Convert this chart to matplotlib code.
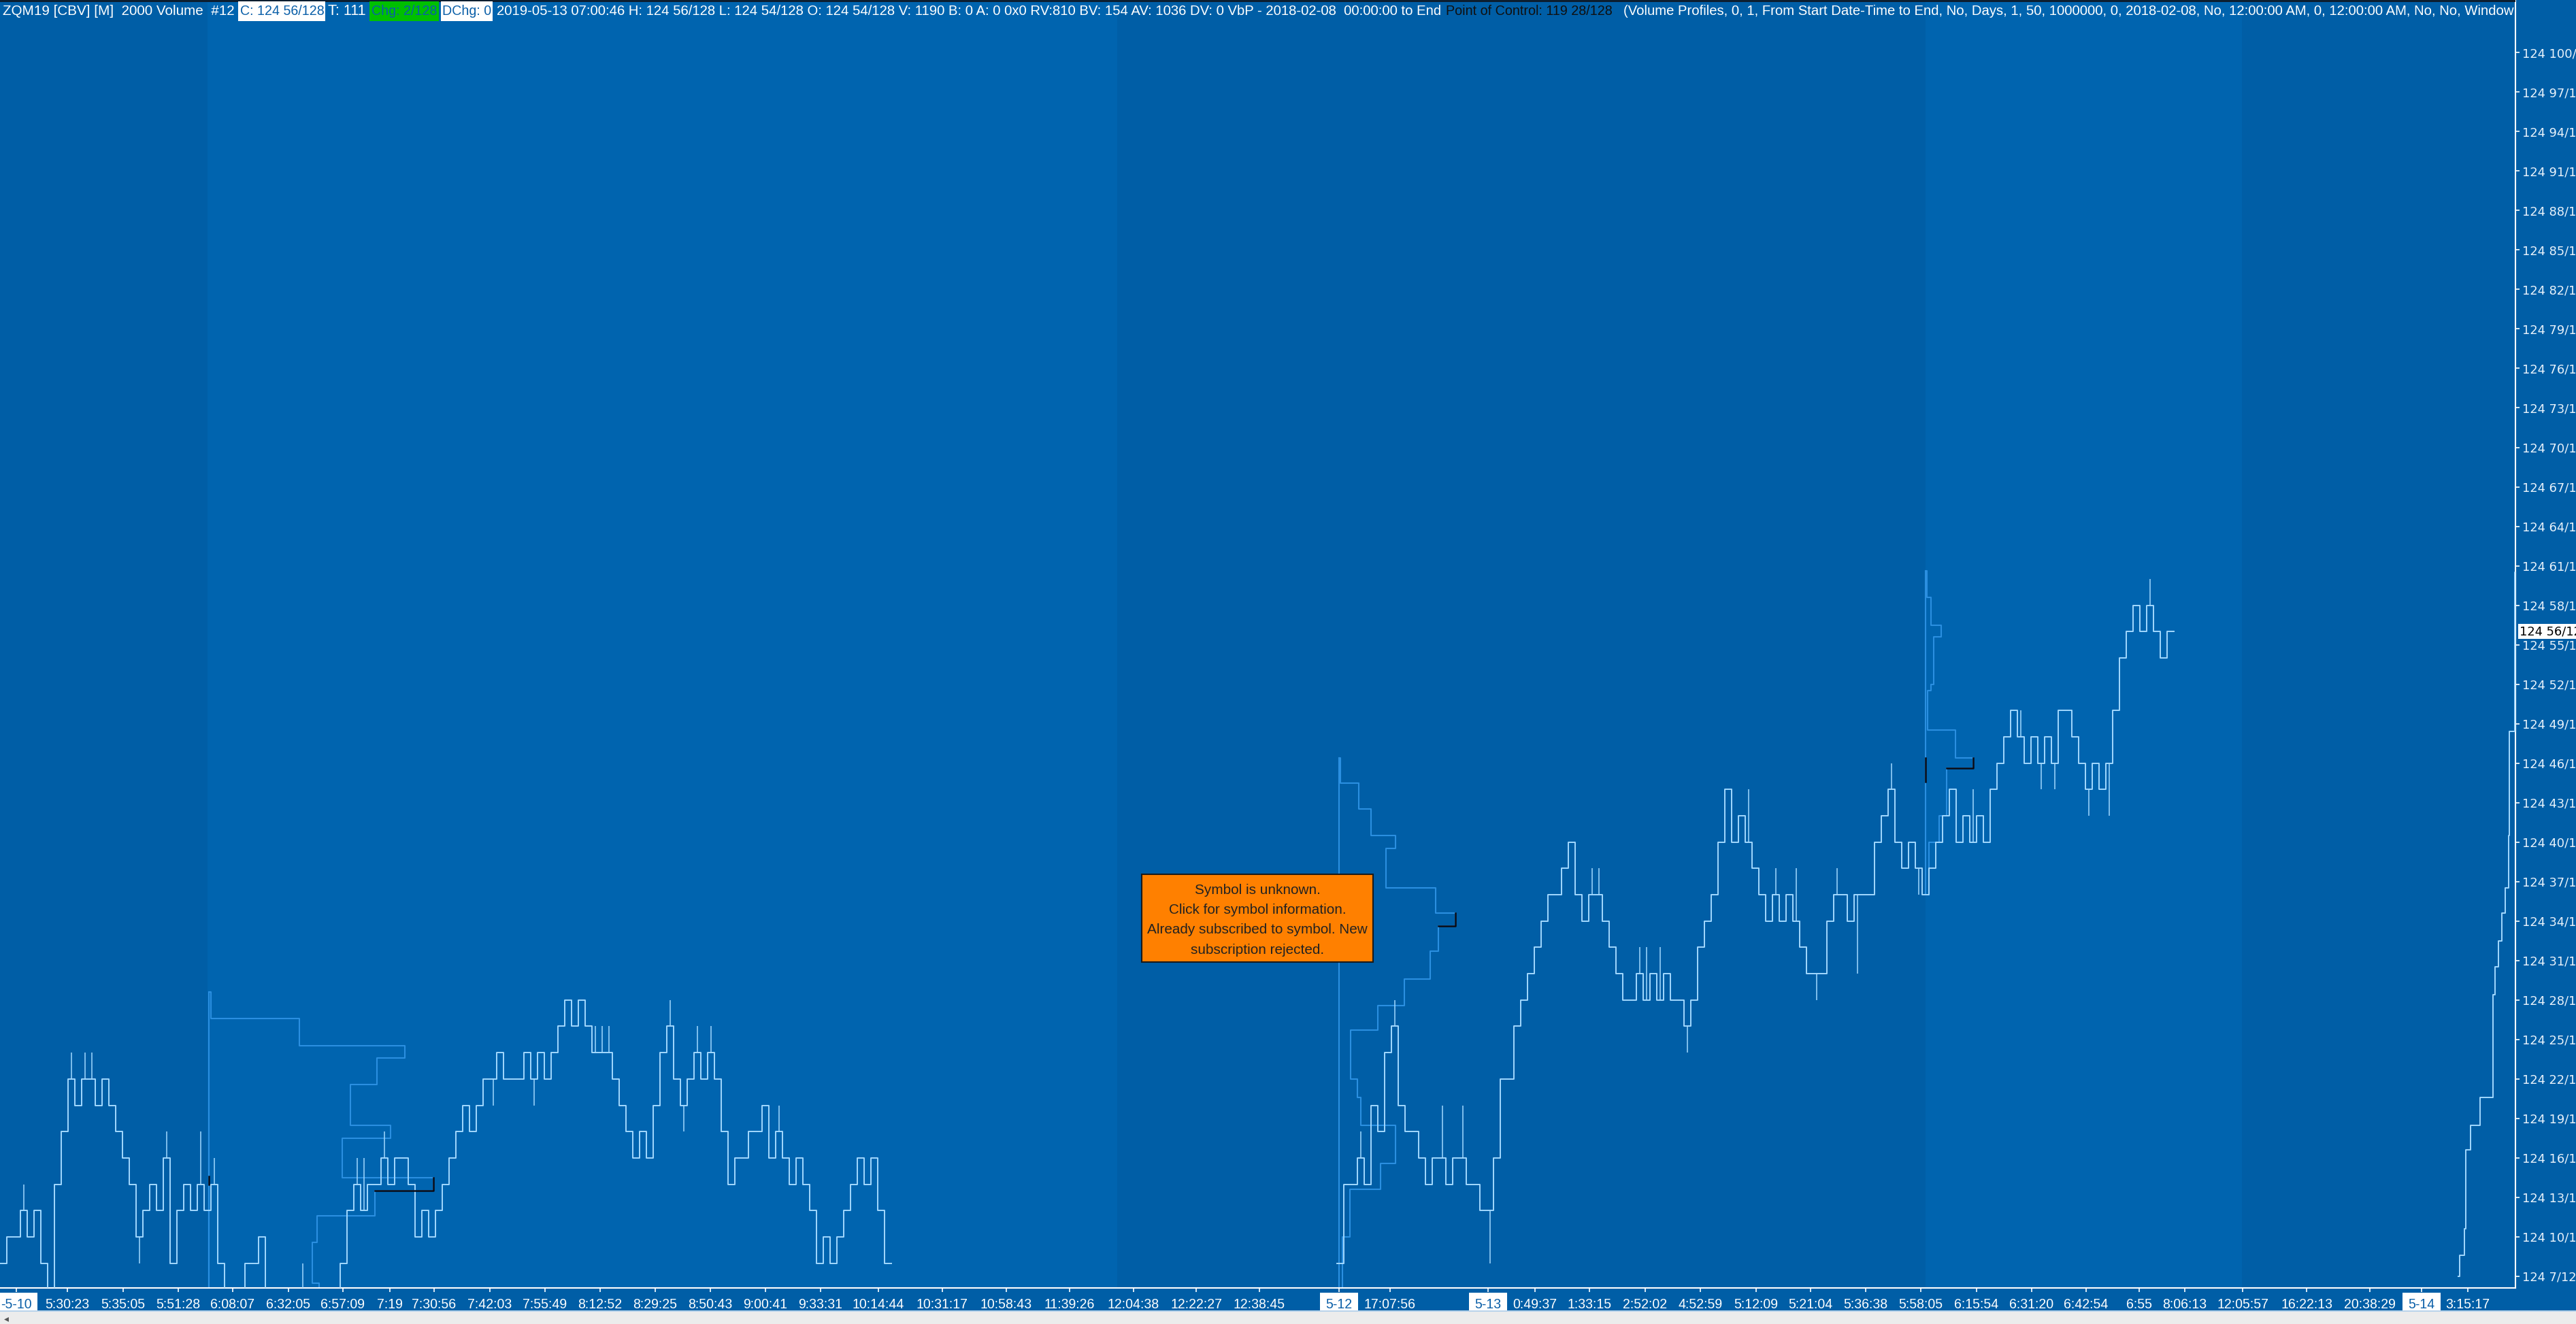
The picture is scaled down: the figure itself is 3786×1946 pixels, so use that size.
import matplotlib
matplotlib.use('Agg')
import matplotlib.pyplot as plt
import numpy as np
from matplotlib import font_manager as fm
from matplotlib.patches import Rectangle

W, H, DPI = 3786, 1946, 100

# ---------------- data (price in 128ths above 124; x in bars) ----------------
seg_a_start = 0.0
seg_a_close = [8, 10, 10, 12, 10, 12, 8, 4, 14, 18, 22, 20, 22, 22, 20, 22, 20, 18, 16, 14,
               10, 12, 14, 12, 16, 8, 12, 14, 12, 14, 12, 14, 8, 4, 4, 4, 8, 8, 10, 4,
               4, 4, 4, 4, 4, 4, 4, 4, 4, 4, 8, 12, 14, 12, 14, 14, 16, 14, 16, 16,
               14, 10, 12, 10, 12, 14, 16, 18, 20, 18, 20, 22, 22, 24, 22, 22, 22, 24, 22, 24,
               22, 24, 26, 28, 26, 28, 26, 24, 24, 24, 22, 20, 18, 16, 18, 16, 20, 24, 26, 22,
               20, 22, 24, 22, 24, 22, 18, 14, 16, 16, 18, 18, 20, 16, 18, 16, 14, 16, 14, 12,
               8, 10, 8, 10, 12, 14, 16, 14, 16, 12, 8]
seg_a_spike_idx = [3, 10, 12, 13, 20, 24, 29, 31, 44, 52, 53, 56, 72, 78, 87, 88, 89, 98, 100, 102, 104, 112, 114]
seg_a_spike_lvl = [14, 24, 24, 24, 8, 18, 18, 16, 8, 16, 16, 18, 20, 20, 26, 26, 26, 28, 18, 26, 26, 20, 20]

seg_b_start = 196.5
seg_b_close = [8, 14, 14, 16, 14, 20, 18, 24, 26, 20, 18, 18, 16, 14, 16, 16, 14, 16, 16, 14,
               14, 12, 12, 16, 22, 22, 26, 28, 30, 32, 34, 36, 36, 38, 40, 36, 34, 36, 36, 34,
               32, 30, 28, 28, 30, 28, 30, 28, 30, 28, 28, 26, 28, 32, 34, 36, 40, 44, 40, 42,
               40, 38, 36, 34, 36, 34, 36, 34, 32, 30, 30, 30, 34, 36, 36, 34, 36, 36, 36, 40,
               42, 44, 40, 38, 40, 38, 36, 38, 40, 42, 44, 40, 42, 40, 42, 40, 44, 46, 48, 50,
               48, 46, 48, 46, 48, 46, 50, 50, 48, 46, 44, 46, 44, 46, 50, 54, 56, 58, 56, 58,
               56, 54, 56]
seg_b_spike_idx = [3, 8, 15, 18, 22, 37, 38, 44, 45, 47, 51, 60, 64, 67, 70, 73, 76, 81, 85, 93, 99, 100, 103, 105, 110, 113, 119]
seg_b_spike_lvl = [18, 28, 20, 20, 8, 38, 38, 32, 32, 32, 24, 44, 38, 38, 28, 38, 30, 46, 36, 44, 50, 50, 44, 44, 42, 42, 60]

seg_c_x = [361.3, 361.5, 362.2, 362.4, 363.1, 364.5, 366.4, 366.7, 367.2, 367.7, 368.2, 368.7, 368.8, 369.55, 369.7]
seg_c_lvl = [7.0, 8.6, 10.6, 16.6, 18.5, 20.6, 28.4, 30.5, 32.5, 34.6, 36.5, 40.5, 48.4, 60.5, 60.5]

# volume-by-price profiles: anchor bar, bin edges (price), bin widths (bars), POC bin
vp1_anchor = 30.7
vp1_edges = [28.6, 26.6, 24.5, 23.6, 21.6, 18.5, 17.5, 14.5, 13.5, 11.6, 9.6, 6.5, 5.0]
vp1_widths = [0.3, 13.3, 28.8, 24.7, 20.8, 26.7, 19.6, 33.0, 24.4, 15.9, 15.2, 16.2]
vp1_poc = 7
vp2_anchor = 196.8
vp2_edges = [46.4, 44.5, 42.5, 40.5, 39.5, 36.5, 34.6, 33.6, 31.7, 29.6, 27.6, 25.7, 22.0, 20.6, 18.5, 15.6, 13.6, 10.0, 5.0]
vp2_widths = [0.2, 2.9, 4.7, 8.3, 6.9, 14.2, 17.1, 14.6, 13.4, 9.6, 5.7, 1.7, 2.7, 3.2, 8.3, 6.1, 1.6, 0.5]
vp2_poc = 6
vp3_anchor = 283.0
vp3_edges = [60.6, 58.6, 56.5, 55.6, 52.0, 51.5, 48.5, 46.4, 45.6, 42.0, 40.0, 36.0]
vp3_widths = [0.2, 0.8, 2.3, 1.2, 0.8, 0.3, 4.4, 7.0, 3.1, 2.0, 0.5]
vp3_poc = 7

# x-axis labels (bar positions) and boxed date labels
xtick_pos = [9.9, 18.1, 26.2, 34.2, 42.4, 50.4, 57.3, 63.8, 72.0, 80.1, 88.2, 96.3, 104.4, 112.5,
             120.6, 129.1, 138.5, 147.9, 157.2, 166.6, 175.8, 185.1, 204.3, 225.6, 233.6, 241.8,
             249.9, 258.1, 266.1, 274.2, 282.3, 290.5, 298.6, 306.6, 314.4, 321.1, 329.6, 339.0,
             348.3, 362.7]
xtick_lab = ['5:30:23', '5:35:05', '5:51:28', '6:08:07', '6:32:05', '6:57:09', '7:19', '7:30:56',
             '7:42:03', '7:55:49', '8:12:52', '8:29:25', '8:50:43', '9:00:41', '9:33:31', '10:14:44',
             '10:31:17', '10:58:43', '11:39:26', '12:04:38', '12:22:27', '12:38:45', '17:07:56',
             '0:49:37', '1:33:15', '2:52:02', '4:52:59', '5:12:09', '5:21:04', '5:36:38', '5:58:05',
             '6:15:54', '6:31:20', '6:42:54', '6:55', '8:06:13', '12:05:57', '16:22:13', '20:38:29',
             '3:15:17']
date_pos = [2.4, 196.8, 218.7, 355.9]
date_lab = ['-5-10', '5-12', '5-13', '5-14']

ytick_vals = list(range(7, 101, 3))
last_price = 56

# background session bands (bar ranges)
band_edges = [0, 30.5, 164.2, 283.0, 329.5, 369.7]
band_dark = [True, False, True, False, True]

# header pieces: text, start px, end px (None = use common size), colour, box
header_pieces = [
    ("ZQM19 [CBV] [M]  2000 Volume  #12", 4, 345, 'white', None),
    ("C: 124 56/128", 353, 476, '#0a5fa8', ('white', 350, 478)),
    ("T: 111", 482, 538, 'white', None),
    ("Chg: 2/128", 546, 642, '#0a5fa8', ('#00c000', 543, 645)),
    ("DChg: 0", 650, 722, '#0a5fa8', ('white', 648, 724)),
    ("2019-05-13 07:00:46 H: 124 56/128 L: 124 54/128 O: 124 54/128 V: 1190 B: 0 A: 0 0x0 "
     "RV:810 BV: 154 AV: 1036 DV: 0 VbP - 2018-02-08  00:00:00 to End", 730, 2117, 'white', None),
    ("Point of Control: 119 28/128", 2125, 2369, '#101010', None),
    ("(Volume Profiles, 0, 1, From Start Date-Time to End, No, Days, 1, 50, 1000000, 0, "
     "2018-02-08, No, 12:00:00 AM, 0, 12:00:00 AM, No, No, Window", 2386, None, 'white', None),
]
msg_lines = ["Symbol is unknown.", "Click for symbol information.",
             "Already subscribed to symbol. New", "subscription rejected."]

# ---------------- style ----------------
DARK = '#005ea6'
LIGHT = '#0064af'
PRICE = '#a3d9ff'
VPC = '#2b8fe0'
names = {f.name for f in fm.fontManager.ttflist}
COND = 'Liberation Sans Narrow' if 'Liberation Sans Narrow' in names else 'Liberation Sans'
SANS = 'Liberation Sans'

fig = plt.figure(figsize=(W / DPI, H / DPI), dpi=DPI, facecolor=DARK)
renderer = fig.canvas.get_renderer()


def fx(x):
    return x / W


def fy(y):
    return 1 - y / H


def fit_size(text, family, target_px, base=20.0):
    t = fig.text(0, 0, text, fontsize=base, family=family)
    w = t.get_window_extent(renderer).width
    t.remove()
    return base * target_px / w


AX_R, AX_B = 3697, 1893
ax = fig.add_axes([0, fy(AX_B), fx(AX_R), AX_B / H])
ax.set_facecolor(DARK)
x_max = 369.7
y_top = 100 + 77.3 / 19.34
y_bot = 100 - (AX_B - 77.3) / 19.34
ax.set_xlim(0, x_max)
ax.set_ylim(y_bot, y_top)

for k in range(len(band_dark)):
    ax.axvspan(band_edges[k], band_edges[k + 1], color=DARK if band_dark[k] else LIGHT, lw=0, zorder=0)

# price segments
xa = seg_a_start + np.arange(len(seg_a_close) + 1)
ax.step(xa, seg_a_close + [seg_a_close[-1]], where='post', color=PRICE, lw=1.4, zorder=3)
ax.vlines(seg_a_start + np.array(seg_a_spike_idx) + 0.5,
          [seg_a_close[i] for i in seg_a_spike_idx], seg_a_spike_lvl, color=PRICE, lw=1.1, zorder=3)
xb = seg_b_start + np.arange(len(seg_b_close) + 1)
ax.step(xb, seg_b_close + [seg_b_close[-1]], where='post', color=PRICE, lw=1.4, zorder=3)
ax.vlines(seg_b_start + np.array(seg_b_spike_idx) + 0.5,
          [seg_b_close[i] for i in seg_b_spike_idx], seg_b_spike_lvl, color=PRICE, lw=1.1, zorder=3)
ax.step(seg_c_x, seg_c_lvl, where='post', color=PRICE, lw=1.4, zorder=3)


def draw_profile(anchor, edges, widths, poc, line_bottom):
    ax.plot([anchor, anchor], [edges[0], line_bottom], color=VPC, lw=1.5, zorder=2)
    xs, ys = [anchor], [edges[0]]
    for k, w in enumerate(widths):
        xs += [anchor + w, anchor + w]
        ys += [edges[k], edges[k + 1]]
    ax.plot(xs, ys, color=VPC, lw=1.5, zorder=2)
    wp = widths[poc]
    wn = widths[poc + 1] if poc + 1 < len(widths) else 0
    ax.plot([anchor + wn, anchor + wp, anchor + wp], [edges[poc + 1], edges[poc + 1], edges[poc]],
            color='#0a0a14', lw=1.8, zorder=4)


draw_profile(vp1_anchor, vp1_edges, vp1_widths, vp1_poc, y_bot)
draw_profile(vp2_anchor, vp2_edges, vp2_widths, vp2_poc, y_bot)
draw_profile(vp3_anchor, vp3_edges, vp3_widths, vp3_poc, 36.1)
ax.plot([vp1_anchor, vp1_anchor], [14.6, 14.0], color='#0a0a14', lw=1.8, zorder=4)
ax.plot([vp3_anchor, vp3_anchor], [46.4, 44.6], color='#0a0a14', lw=1.8, zorder=4)

# spines
for s in ['top', 'left']:
    ax.spines[s].set_visible(False)
for s in ['right', 'bottom']:
    ax.spines[s].set_color('white')
    ax.spines[s].set_linewidth(1.5)

# x ticks
xfs = fit_size('5:30:23', COND, 62) * 1.05
ax.set_xticks(xtick_pos + date_pos)
ax.set_xticklabels(xtick_lab + date_lab)
ax.tick_params(axis='x', colors='white', direction='out', length=4, width=1.2, pad=7, labelsize=xfs)
for lab in ax.get_xticklabels():
    lab.set_fontfamily(COND)
    lab.set_color('white')
    if lab.get_text() in date_lab:
        lab.set_color('#0a5fa8')
        lab.set_bbox(dict(facecolor='white', edgecolor='none', pad=6))

# y ticks on right
ax.yaxis.tick_right()
ax.set_yticks(ytick_vals)
ax.set_yticklabels([f"124 {v}/128" for v in ytick_vals])
yfs = fit_size('124', 'DejaVu Sans', 34)
ax.tick_params(axis='y', colors='white', direction='out', length=4, width=1.2, pad=3, labelsize=yfs)
for lab in ax.get_yticklabels():
    lab.set_color('#e8f2fb')
ax.annotate(f"124 {last_price}/128", xy=(1, last_price), xycoords=('axes fraction', 'data'),
            xytext=(6, 0), textcoords='offset pixels', ha='left', va='center', fontsize=yfs,
            family='DejaVu Sans', color='black',
            bbox=dict(facecolor='white', edgecolor='none', pad=1.5), zorder=10, annotation_clip=False)

# header (boxes live in the axes so they sit under the header text)
common = fit_size(header_pieces[5][0], COND, 2117 - 730)
ax.add_patch(Rectangle((0, fy(3)), fx(AX_R), 3 / H, transform=fig.transFigure,
                       facecolor='#0c1e30', edgecolor='none', zorder=15, clip_on=False))
for text, x0, x1, col, box in header_pieces:
    if box is not None:
        bc, bx0, bx1 = box
        ax.add_patch(Rectangle((fx(bx0), fy(31)), fx(bx1 - bx0), 29 / H, transform=fig.transFigure,
                               facecolor=bc, edgecolor='none', zorder=16, clip_on=False))
    fs = common if x1 is None else min(fit_size(text, COND, x1 - x0), common * 1.15)
    ax.text(fx(x0), fy(16), text, transform=fig.transFigure, fontsize=fs, family=COND, color=col,
            ha='left', va='center', clip_on=True, zorder=20)

# orange message box
ax.add_patch(Rectangle((fx(1678), fy(1414)), fx(2018 - 1678), (1414 - 1285) / H,
                       transform=fig.transFigure, facecolor='#ff8000', edgecolor='#1a1a1a',
                       lw=1.5, zorder=30, clip_on=False))
mfs = fit_size(msg_lines[2], SANS, 323)
for k, line in enumerate(msg_lines):
    ax.text(fx(1848), fy(1308 + 29.5 * k), line, transform=fig.transFigure, fontsize=mfs,
            family=SANS, color='#222222', ha='center', va='center', zorder=31)

# bottom gray strip
fig.patches.append(Rectangle((0, 0), 1, (H - 1927) / H, transform=fig.transFigure,
                             facecolor='#ececec', edgecolor='none', zorder=1))
fig.patches.append(Rectangle((0, fy(1928)), 1, 2 / H, transform=fig.transFigure,
                             facecolor='#b9d3ea', edgecolor='none', zorder=2))
fig.text(fx(6), fy(1938), '\u25c2', fontsize=10, color='#555555', ha='left', va='center')

fig.savefig('out.png', dpi=DPI, facecolor=DARK)
